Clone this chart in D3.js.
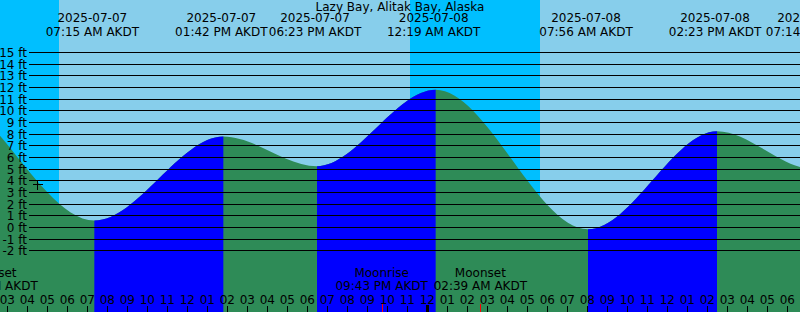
<!DOCTYPE html>
<html>
<head>
<meta charset="utf-8">
<script src="https://cdn.jsdelivr.net/npm/d3@7/dist/d3.min.js"></script>
<style>
body{margin:0;background:#fff}
svg{display:block}
text{font-family:"DejaVu Sans",sans-serif;font-size:12px;fill:#000}
</style>
</head>
<body>
<div id="chart"></div>
<script>
// chart data
var title = "Lazy Bay, Alitak Bay, Alaska";
var tideTimes = ["2025-07-06 17:40","2025-07-06 23:30","2025-07-07 07:15","2025-07-07 13:42","2025-07-07 18:23",
                 "2025-07-08 00:19","2025-07-08 07:56","2025-07-08 14:23","2025-07-08 19:14","2025-07-09 01:30",
                 "2025-07-09 08:40"];
var tideHeights = [4.6, 11.6, 0.6, 7.8, 5.25, 11.8, -0.15, 8.25, 5.0, 11.0, -0.5];
var nightStarts = ["2025-07-06 23:08","2025-07-07 23:08"];
var nightEnds   = ["2025-07-07 05:35","2025-07-08 05:38"];
var moonNames = ["Moonset","Moonrise","Moonset"];
var moonTimes = ["2025-07-07 02:11","2025-07-07 21:43","2025-07-08 02:39"];
var nowTime = "2025-07-07 04:30", nowHeight = 3.7;
var heightTicks = [-2,-1,0,1,2,3,4,5,6,7,8,9,10,11,12,13,14,15];
var viewStart = "2025-07-07 02:38", viewEnd = "2025-07-08 18:38";

var W = 800, H = 312;
var parse = d3.utcParse("%Y-%m-%d %H:%M");
var fmtDate = d3.utcFormat("%Y-%m-%d");
var fmtTime = d3.utcFormat("%I:%M %p AKDT");
var fmtHour = d3.utcFormat("%I");

var x = d3.scaleUtc().domain([parse(viewStart), parse(viewEnd)]).range([0, W]);
var y = d3.scaleLinear().domain([0, 15]).range([227.5, 52.5]);

var svg = d3.select("#chart").append("svg").attr("width", W).attr("height", H);

// sky: day, then night bands
svg.append("rect").attr("width", W).attr("height", H).attr("fill", "#87ceeb");
svg.selectAll("rect.night").data(nightStarts).enter().append("rect")
  .attr("class","night")
  .attr("x", function(d){ return Math.max(0, x(parse(d))); })
  .attr("width", function(d,i){ return x(parse(nightEnds[i])) - Math.max(0, x(parse(d))); })
  .attr("y", 0).attr("height", H).attr("fill", "#00bfff");

// tide curve
var tides = tideTimes.map(function(t,i){ return {t: parse(t), h: tideHeights[i]}; });
var area = d3.area().curve(d3.curveMonotoneX)
  .x(function(d){ return x(d.t); }).y0(H).y1(function(d){ return y(d.h); });

var tg = svg.append("g").attr("transform", "translate(2,0)");
var clip = svg.append("defs").append("clipPath").attr("id", "flood");
tides.forEach(function(d,i){
  if(i < tides.length-1 && tides[i+1].h > d.h){
    clip.append("rect").attr("x", x(d.t)).attr("width", x(tides[i+1].t) - x(d.t))
      .attr("y", 0).attr("height", H);
  }
});
tg.append("path").datum(tides).attr("d", area).attr("fill", "#2e8b57");
tg.append("path").datum(tides).attr("d", area).attr("fill", "#0000ff").attr("clip-path", "url(#flood)");

// height grid
svg.selectAll("line.grid").data(heightTicks).enter().append("line")
  .attr("x1", 29).attr("x2", W)
  .attr("y1", function(d){ return Math.floor(y(d)) + 0.5; })
  .attr("y2", function(d){ return Math.floor(y(d)) + 0.5; })
  .attr("stroke", "#000").attr("shape-rendering", "crispEdges");
svg.selectAll("text.hl").data(heightTicks).enter().append("text")
  .attr("x", 27).attr("y", function(d){ return Math.floor(y(d)) + 5; })
  .attr("text-anchor", "end").text(function(d){ return d + " ft"; });

// now marker
var nx = Math.round(x(parse(nowTime))) + 0.5, ny = Math.round(y(nowHeight)) + 0.5;
svg.append("path").attr("d", "M"+(nx-5)+","+ny+"H"+(nx+5)+"M"+nx+","+(ny-4)+"V"+(ny+5))
  .attr("stroke", "#000").attr("shape-rendering", "crispEdges");

// title and tide event labels
svg.append("text").attr("x", W/2).attr("y", 11).attr("text-anchor", "middle").text(title);
var shown = tides.filter(function(d){ return x(d.t) > -60 && x(d.t) < W + 60; });
var ev = svg.selectAll("g.ev").data(shown).enter().append("g")
  .attr("transform", function(d){ return "translate(" + x(d.t) + ",0)"; });
ev.append("text").attr("y", 22).attr("text-anchor", "middle").text(function(d){ return fmtDate(d.t); });
ev.append("text").attr("y", 35.5).attr("text-anchor", "middle").text(function(d){ return fmtTime(d.t); });

// moon events
var moon = moonTimes.map(function(t,i){ return {t: parse(t), name: moonNames[i]}; });
var mg = svg.selectAll("g.moon").data(moon).enter().append("g")
  .attr("transform", function(d){ return "translate(" + x(d.t) + ",0)"; });
mg.append("text").attr("y", 277).attr("text-anchor", "middle").text(function(d){ return d.name; });
mg.append("text").attr("y", 290).attr("text-anchor", "middle").text(function(d){ return fmtTime(d.t); });

// hour axis
var hours = x.ticks(d3.utcHour.every(1));
svg.selectAll("text.hr").data(hours).enter().append("text")
  .attr("x", function(d){ return x(d); }).attr("y", 303.5)
  .attr("text-anchor", "middle").text(function(d){ return fmtHour(d); });
svg.selectAll("line.hr").data(hours).enter().append("line")
  .attr("x1", function(d){ return Math.floor(x(d)) + 0.5; })
  .attr("x2", function(d){ return Math.floor(x(d)) + 0.5; })
  .attr("y1", function(d){ return d.getUTCHours() === 0 ? 305 : 306; }).attr("y2", H)
  .attr("stroke", "#000")
  .attr("stroke-width", function(d){ return d.getUTCHours() === 0 ? 3 : 1; })
  .attr("shape-rendering", "crispEdges");
mg.append("line").attr("x1", 0.5).attr("x2", 0.5).attr("y1", 304).attr("y2", H)
  .attr("stroke", "#ff0000").attr("shape-rendering", "crispEdges");
</script>
</body>
</html>
